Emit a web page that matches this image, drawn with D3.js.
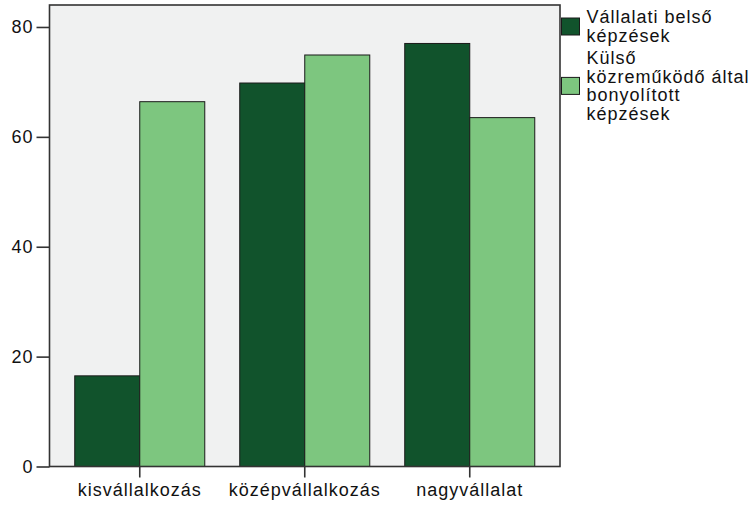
<!doctype html>
<html lang="hu">
<head>
  <meta charset="utf-8">
  <style>
    body { margin: 0; background: #fff; }
    text { font-family: "Liberation Sans", Arial, sans-serif; fill: #111; }
  </style>
</head>
<body>
  <script src="https://d3js.org/d3.v7.min.js"></script>
  <div id="chart"></div>
  <script>
    // Data
    var categories = ["kisvállalkozás", "középvállalkozás", "nagyvállalat"];
    var series = ["Vállalati belső képzések", "Külső közreműködő által bonyolított képzések"];
    var internalValues = [16.5, 69.8, 77.0];
    var externalValues = [66.4, 74.9, 63.5];
    var yTicks = [0, 20, 40, 60, 80];
    var legendLines = [["Vállalati belső", "képzések"],
                       ["Külső", "közreműködő által", "bonyolított", "képzések"]];
    var colors = ["#11532c", "#7dc67f"];

    var width = 756, height = 505;
    var plotLeft = 49.5, plotRight = 560, plotTop = 5, plotBottom = 466.5;

    var svg = d3.select("#chart").append("svg")
                .attr("width", width)
                .attr("height", height);

    var x0 = d3.scaleBand().domain(categories).range([plotLeft, plotRight])
               .paddingInner(0.212).paddingOuter(0.153);
    var x1 = d3.scaleBand().domain(series).range([0, x0.bandwidth()]);
    var y = d3.scaleLinear().domain([0, 84]).range([plotBottom, plotTop]);

    // plot area
    svg.append("rect")
       .attr("x", plotLeft).attr("y", plotTop)
       .attr("width", plotRight - plotLeft).attr("height", plotBottom - plotTop)
       .attr("fill", "#f0f1f1");

    var rows = categories.map(function(c, i) {
      return {cat: c, vals: [internalValues[i], externalValues[i]]};
    });

    var groups = svg.append("g").selectAll("g").data(rows).enter()
      .append("g")
      .attr("transform", function(d) { return "translate(" + x0(d.cat) + ",0)"; });

    groups.selectAll("rect").data(function(d) {
        return d.vals.map(function(v, j) { return {s: series[j], v: v, j: j}; });
      }).enter()
      .append("rect")
      .attr("x", function(d) { return x1(d.s); })
      .attr("y", function(d) { return y(d.v); })
      .attr("width", x1.bandwidth())
      .attr("height", function(d) { return plotBottom - y(d.v); })
      .attr("fill", function(d) { return colors[d.j]; })
      .attr("stroke", "#1a1a1a")
      .attr("stroke-width", 1);

    // frame
    svg.append("rect")
       .attr("x", plotLeft).attr("y", plotTop)
       .attr("width", plotRight - plotLeft).attr("height", plotBottom - plotTop)
       .attr("fill", "none")
       .attr("stroke", "#333")
       .attr("stroke-width", 1.6);

    // axes
    var yAxis = svg.append("g")
      .attr("transform", "translate(" + plotLeft + ",0)")
      .call(d3.axisLeft(y).tickValues(yTicks).tickSize(13).tickPadding(3).tickSizeOuter(0));
    yAxis.select(".domain").remove();

    var xAxis = svg.append("g")
      .attr("transform", "translate(0," + plotBottom + ")")
      .call(d3.axisBottom(x0).tickSize(11).tickPadding(6).tickSizeOuter(0));
    xAxis.select(".domain").remove();

    svg.selectAll(".tick line").attr("stroke", "#333").attr("stroke-width", 1.6);
    svg.selectAll(".tick text")
       .style("font-size", "18px")
       .style("letter-spacing", "1px")
       .attr("fill", "#111");

    // legend
    var lineH = 18.4;
    var legend = svg.append("g");
    var blockTop = [23.3, 64.3];
    legendLines.forEach(function(lines, i) {
      var first = blockTop[i];
      var last = first + (lines.length - 1) * lineH;
      var mid = (first + last) / 2 - 6;
      legend.append("rect")
        .attr("x", 561.5).attr("y", mid - 8.5)
        .attr("width", 18).attr("height", 17)
        .attr("fill", colors[i])
        .attr("stroke", "#1a1a1a")
        .attr("stroke-width", 1);
      legend.append("text")
        .selectAll("tspan").data(lines).enter()
        .append("tspan")
        .attr("x", 586.5)
        .attr("y", function(d, k) { return first + k * lineH; })
        .style("font-size", "18px")
        .style("letter-spacing", "1px")
        .text(function(d) { return d; });
    });
  </script>
</body>
</html>
